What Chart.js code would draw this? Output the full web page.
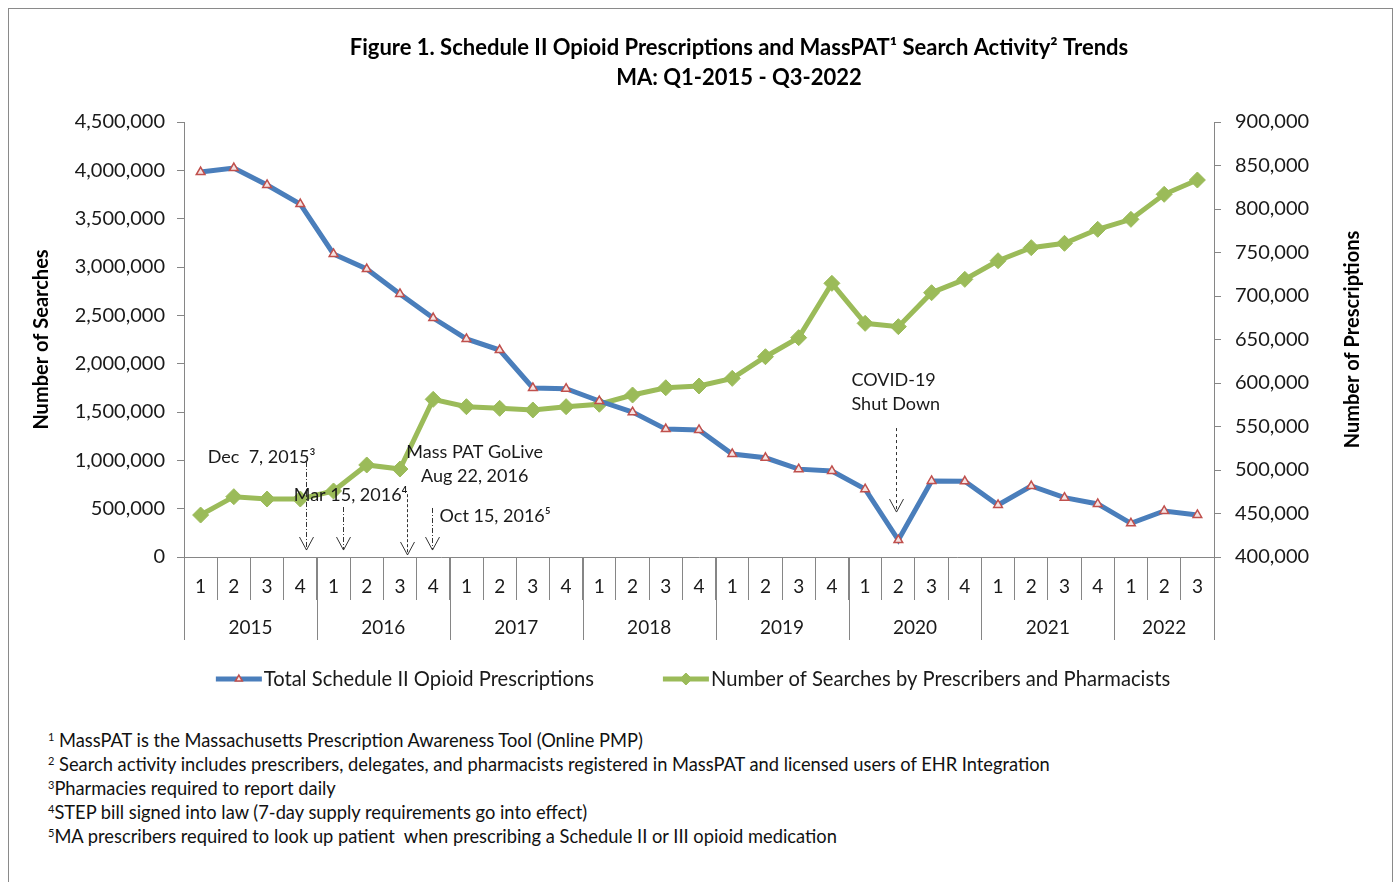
<!DOCTYPE html>
<html>
<head>
<meta charset="utf-8">
<script src="https://cdn.jsdelivr.net/npm/chart.js@4.4.0/dist/chart.umd.min.js"></script>
<style>
  body { margin: 0; background: #fff; font-family: Lato, "Open Sans", sans-serif; }
  #frame { position: absolute; left: 8px; top: 8px; width: 1383px; height: 900px; border: 1px solid #8a8a8a; }
  #wrap { position: absolute; left: 0; top: 0; width: 1400px; height: 710px; }
  #notes { position: absolute; left: 48px; top: 728px; font-size: 18.3px; line-height: 24px; color: #111; white-space: pre; }
  #notes sup { font-size: 11px; vertical-align: top; position: relative; top: -3px; }
</style>
</head>
<body>
<div id="frame"></div>
<div id="wrap"><canvas id="chart"></canvas></div>
<div id="notes"><div><sup>1</sup> MassPAT is the Massachusetts Prescription Awareness Tool (Online PMP)</div><div><sup>2</sup> Search activity includes prescribers, delegates, and pharmacists registered in MassPAT and licensed users of EHR Integration</div><div><sup>3</sup>Pharmacies required to report daily</div><div><sup>4</sup>STEP bill signed into law (7-day supply requirements go into effect)</div><div><sup>5</sup>MA prescribers required to look up patient  when prescribing a Schedule II or III opioid medication</div></div>
<script>
// quarters 2015 Q1 .. 2022 Q3
const quarterLabels = ['1','2','3','4','1','2','3','4','1','2','3','4','1','2','3','4',
                       '1','2','3','4','1','2','3','4','1','2','3','4','1','2','3'];
const years = ['2015','2016','2017','2018','2019','2020','2021','2022'];
const quartersPerYear = [4, 4, 4, 4, 4, 4, 4, 3];

// right axis
const prescriptions = [842500, 847000, 827600, 805700, 748300, 731000, 702300, 674700,
                       650600, 637900, 594300, 593500, 579300, 566500, 547000, 546000,
                       518400, 514000, 501000, 498900, 478000, 419500, 487400, 487000,
                       459800, 481600, 468200, 461000, 438700, 452900, 448300];
// left axis
const searches = [434000, 624000, 600000, 600000, 683000, 952000, 910000, 1631000,
                  1555000, 1538000, 1521000, 1555000, 1580000, 1676000, 1751000, 1769000,
                  1848000, 2072000, 2269000, 2831000, 2417000, 2383000, 2734000, 2872000,
                  3065000, 3200000, 3245000, 3390000, 3493000, 3752000, 3900000];

const titleLines = ['Figure 1. Schedule II Opioid Prescriptions and MassPAT\u00B9 Search Activity\u00B2 Trends',
                    'MA: Q1-2015 - Q3-2022'];

// call-outs: x in category units, y in search units (left axis)
const callouts = [
  { lines: ['Dec  7, 2015\u00B3'], tx: 3.46, ty: [1034000], align: 'right', ax: 3.16, from: 983000, to: 72000, dash: [5, 2, 1, 2] },
  { lines: ['Mar 15, 2016\u2074'], tx: 6.23, ty: [641000], align: 'right', ax: 4.30, from: 517000, to: 72000, dash: [5, 2, 1, 2] },
  { lines: ['Mass PAT GoLive', 'Aug 22, 2016'], tx: 8.25, ty: [1086000, 838000], align: 'center', ax: 6.2, from: 650000, to: 21000, dash: [3, 2] },
  { lines: ['Oct 15, 2016\u2075'], tx: 7.19, ty: [424000], align: 'left', ax: 6.95, from: 507000, to: 72000, dash: [5, 2, 1, 2] },
  { lines: ['COVID-19', 'Shut Down'], tx: 19.59, ty: [1831000, 1583000], align: 'left', ax: 20.94, from: 1334000, to: 465000, dash: [3, 3] }
];

const FONT = 'Lato';
const AXIS = '#868686';
const TEXT = '#1a1a1a';

const extras = {
  id: 'extras',
  afterDraw(chart) {
    const { ctx, chartArea: a, scales } = chart;
    const x = scales.x, yL = scales.y, yR = scales.y1;
    const step = x.getPixelForValue(1) - x.getPixelForValue(0);
    ctx.save();

    // title
    ctx.fillStyle = '#000';
    ctx.font = 'bold 22px ' + FONT;
    ctx.textAlign = 'center';
    ctx.textBaseline = 'middle';
    const cx = (a.left + a.right) / 2 + 40;
    ctx.fillText(titleLines[0], cx, a.top - 74);
    ctx.fillText(titleLines[1], cx, a.top - 44);

    // axis titles
    ctx.font = 'bold 20px ' + FONT;
    ctx.save();
    ctx.translate(yL.left + 42, (a.top + a.bottom) / 2);
    ctx.rotate(-Math.PI / 2);
    ctx.fillText('Number of Searches', 0, 0);
    ctx.restore();
    ctx.save();
    ctx.translate(yR.right - 47, (a.top + a.bottom) / 2);
    ctx.rotate(-Math.PI / 2);
    ctx.fillText('Number of Prescriptions', 0, 0);
    ctx.restore();

    // year groups
    ctx.strokeStyle = AXIS;
    ctx.lineWidth = 1;
    ctx.fillStyle = TEXT;
    ctx.font = '19px ' + FONT;
    let start = 0;
    years.forEach((yr, k) => {
      const n = quartersPerYear[k];
      const x0 = x.getPixelForValue(start) - step / 2;
      const x1 = x.getPixelForValue(start + n - 1) + step / 2;
      ctx.beginPath();
      ctx.moveTo(Math.round(x0) + 0.5, a.bottom);
      ctx.lineTo(Math.round(x0) + 0.5, a.bottom + 83);
      ctx.stroke();
      ctx.fillText(yr, (x0 + x1) / 2, a.bottom + 71);
      start += n;
      if (k === years.length - 1) {
        ctx.beginPath();
        ctx.moveTo(Math.round(x1) + 0.5, a.bottom);
        ctx.lineTo(Math.round(x1) + 0.5, a.bottom + 83);
        ctx.stroke();
      }
    });

    // call-outs
    ctx.fillStyle = TEXT;
    ctx.font = '18px ' + FONT;
    callouts.forEach(c => {
      ctx.textAlign = c.align;
      c.lines.forEach((t, i) => ctx.fillText(t, x.getPixelForValue(0) + c.tx * step, yL.getPixelForValue(c.ty[i])));
      const px = Math.round(x.getPixelForValue(0) + c.ax * step) + 0.5;
      const y0 = yL.getPixelForValue(c.from), y1 = yL.getPixelForValue(c.to);
      ctx.strokeStyle = '#333';
      ctx.lineWidth = 1;
      ctx.setLineDash(c.dash);
      ctx.beginPath();
      ctx.moveTo(px, y0);
      ctx.lineTo(px, y1);
      ctx.stroke();
      ctx.setLineDash([]);
      ctx.beginPath();
      ctx.moveTo(px - 7, y1 - 13);
      ctx.lineTo(px, y1);
      ctx.lineTo(px + 7, y1 - 13);
      ctx.stroke();
    });

    // legend
    const ly = a.bottom + 122;
    ctx.font = '20.2px ' + FONT;
    ctx.textAlign = 'left';
    const ds = chart.data.datasets;
    const w0 = 48 + ctx.measureText(ds[0].label).width;
    const w1 = 48 + ctx.measureText(ds[1].label).width;
    const gap = 69;
    let lx = (a.left + a.right) / 2 - 6 - (w0 + gap + w1) / 2;
    ds.forEach((d, i) => {
      ctx.strokeStyle = d.borderColor;
      ctx.lineWidth = d.borderWidth;
      ctx.beginPath();
      ctx.moveTo(lx, ly);
      ctx.lineTo(lx + 46, ly);
      ctx.stroke();
      ctx.fillStyle = d.pointBackgroundColor;
      ctx.strokeStyle = d.pointBorderColor;
      ctx.lineWidth = d.pointBorderWidth;
      Chart.helpers.drawPoint(ctx, { pointStyle: d.pointStyle, radius: i === 0 ? 4 : 6, rotation: 0, borderWidth: d.pointBorderWidth }, lx + 23, ly);
      ctx.fillStyle = TEXT;
      ctx.textBaseline = 'middle';
      ctx.fillText(d.label, lx + 48, ly);
      lx += (i === 0 ? w0 : w1) + gap;
    });

    ctx.restore();
  }
};

const tickFont = { family: FONT, size: 20 };

new Chart(document.getElementById('chart'), {
  type: 'line',
  data: {
    labels: quarterLabels,
    datasets: [
      {
        label: 'Total Schedule II Opioid Prescriptions',
        data: prescriptions,
        yAxisID: 'y1',
        borderColor: '#4A7EBB',
        borderWidth: 5,
        pointStyle: 'triangle',
        pointRadius: 5,
        pointBackgroundColor: '#F5E3E3',
        pointBorderColor: '#C0504D',
        pointBorderWidth: 1.5,
        tension: 0
      },
      {
        label: 'Number of Searches by Prescribers and Pharmacists',
        data: searches,
        yAxisID: 'y',
        borderColor: '#9BBB59',
        borderWidth: 5,
        pointStyle: 'rectRot',
        pointRadius: 8,
        pointBackgroundColor: '#9BBB59',
        pointBorderColor: '#9BBB59',
        pointBorderWidth: 1,
        tension: 0
      }
    ]
  },
  options: {
    responsive: true,
    maintainAspectRatio: false,
    animation: false,
    layout: { padding: { top: 122, left: 0, right: 0, bottom: 0 } },
    plugins: { legend: { display: false }, title: { display: false }, tooltip: { enabled: false } },
    scales: {
      x: {
        type: 'category',
        offset: true,
        grid: { offset: true, drawOnChartArea: false, tickLength: 43, color: AXIS },
        border: { color: AXIS },
        ticks: { font: { family: FONT, size: 19 }, color: TEXT, padding: -25, autoSkip: false, maxRotation: 0 },
        afterFit: s => { s.height = 153; }
      },
      y: {
        position: 'left',
        min: 0,
        max: 4500000,
        grid: { drawOnChartArea: false, tickLength: 7, color: AXIS },
        border: { color: AXIS },
        ticks: { stepSize: 500000, font: tickFont, color: TEXT, padding: 12,
                 callback: v => v.toLocaleString('en-US') },
        afterFit: s => { s.width = 184; }
      },
      y1: {
        position: 'right',
        min: 400000,
        max: 900000,
        grid: { drawOnChartArea: false, tickLength: 7, color: AXIS },
        border: { color: AXIS },
        ticks: { stepSize: 50000, font: tickFont, color: TEXT, padding: 14,
                 callback: v => v.toLocaleString('en-US') },
        afterFit: s => { s.width = 186; }
      }
    }
  },
  plugins: [extras]
});
</script>
</body>
</html>
